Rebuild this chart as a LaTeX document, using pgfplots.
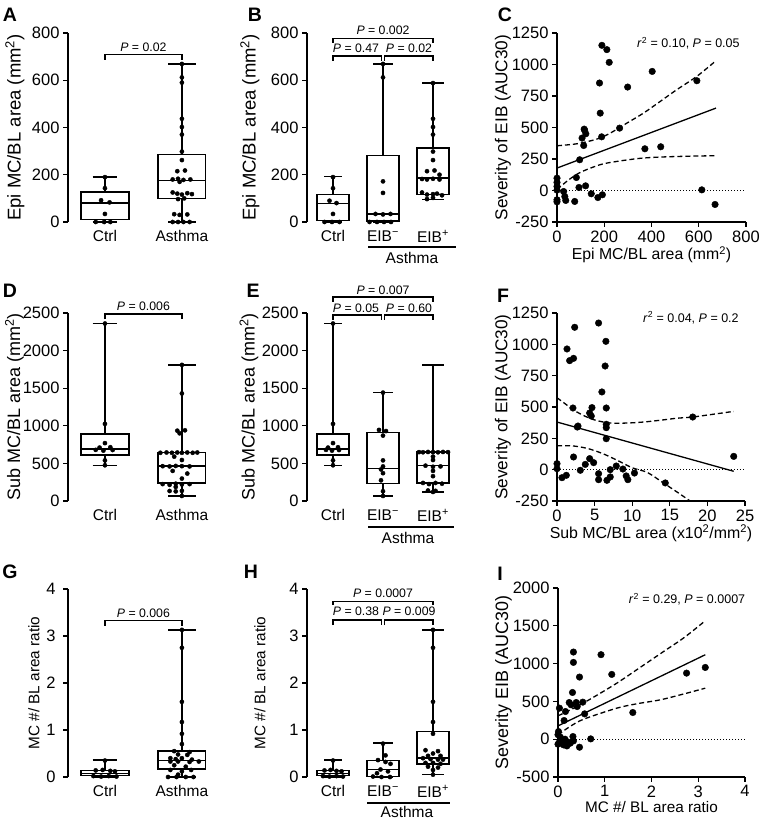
\documentclass[border=0pt]{standalone}
\usepackage{fontspec}
\setmainfont{Liberation Sans}
\usepackage{pgfplots}
\pgfplotsset{compat=1.18}
\newcommand{\fs}[1]{\fontsize{#1}{#1}\selectfont}
\newcommand{\mn}{\textsuperscript{\char"2212}}
% box: position, half box width, half whisker width, lower whisker, lower quartile, median, upper quartile, upper whisker
\newcommand{\bxp}[8]{%
 \pgfmathsetmacro\xa{#1-#2}\pgfmathsetmacro\xb{#1+#2}%
 \pgfmathsetmacro\wa{#1-#3}\pgfmathsetmacro\wb{#1+#3}%
 \addplot[bxl, line cap=rect] coordinates {(\xa,#5) (\xb,#5) (\xb,#7) (\xa,#7) (\xa,#5)};
 \addplot[bxl] coordinates {(\xa,#6) (\xb,#6)};
 \addplot[bxl] coordinates {(#1,#4) (#1,#5)};
 \addplot[bxl] coordinates {(#1,#7) (#1,#8)};
 \addplot[bxl] coordinates {(\wa,#4) (\wb,#4)};
 \addplot[bxl] coordinates {(\wa,#8) (\wb,#8)};
}
\tikzset{brk/.style={black, line width=1.2pt}}
\pgfplotsset{
 every axis/.append style={
   scale only axis, clip=false, anchor=south west,
   axis line style={line width=1.3pt},
   tick style={line width=1.3pt, black},
   major tick length=5pt, tick align=outside,
   /pgf/number format/assume math mode=true,
   /pgf/number format/1000 sep={},
   scaled ticks=false,
   yticklabel style={font=\fs{16.5}},
   xticklabel style={font=\fs{16.5}},
   every axis x label/.style={at={(axis description cs:0.5,0)},yshift=-30pt,anchor=center},
 },
 ylab/.style={every axis y label/.style={at={(axis description cs:0,0.5)},xshift=-#1,rotate=90,anchor=center}},
 boxax/.style={axis y line*=left, axis x line*=bottom, x axis line style={draw=none}, xtick style={draw=none}, ytick pos=left, xticklabel style={font=\fs{15.5}}},
 scax/.style={axis x line*=bottom, axis y line*=left},
 bxl/.style={black, line width=1.4pt, solid, mark=none},
 bdots/.style={only marks, mark=*, mark size=2.1pt, black},
 sdots/.style={only marks, mark=*, mark size=3.3pt, black},
 rline/.style={black, line width=1.3pt, mark=none},
 cband/.style={black, line width=1.3pt, dash pattern=on 5pt off 3pt, mark=none, smooth},
 zline/.style={black, line width=1.1pt, dash pattern=on 1.1pt off 1.9pt, mark=none},
}
\begin{document}
\begin{tikzpicture}
\path[use as bounding box] (0,0) rectangle (769pt,832pt);
% ---------------- A ----------------
\begin{axis}[boxax, ylab=53pt, at={(68pt,610pt)}, width=147pt, height=189pt,
  xmin=0.52, xmax=2.43, ymin=0, ymax=800, ytick={0,200,...,800},
  xtick={1,2}, xticklabels={Ctrl,Asthma},
  ylabel={Epi MC/BL area (mm\textsuperscript{2})}, ylabel style={font=\fs{18.5}}]
\bxp{1}{0.31}{0.16}{0}{11}{80}{127}{190}
\bxp{2}{0.31}{0.18}{0}{99}{175}{285}{669}
\addplot[bdots] coordinates {(1,190) (1,143) (0.95,92) (1.06,83) (1,34) (0.88,0) (0.99,0) (1.07,0)};
\addplot[bdots] coordinates {(2,669) (2,612) (2,590) (2,437) (2,402) (2,370) (2,298) (2,262) (1.94,215) (2.04,218) (1.88,180) (1.95,183) (2.02,178) (2.11,180) (1.97,170) (1.88,125) (1.94,120) (2.0,116) (2.07,122) (2.13,118) (1.95,97) (2.03,100) (1.9,33) (1.97,30) (2.07,32) (1.88,0) (1.95,0) (2.02,0) (2.1,0)};
\draw[brk] (axis cs:1,686) -- (axis cs:1,710) -- (axis cs:2,710) -- (axis cs:2,686);
\node[font=\fs{12.3}] at (axis cs:1.5,738) {\textit{P} = 0.02};
\end{axis}
% ---------------- B ----------------
\begin{axis}[boxax, ylab=57pt, at={(307pt,610pt)}, width=153pt, height=189pt,
  xmin=0.48, xmax=3.54, ymin=0, ymax=800, ytick={0,200,...,800},
  xtick={1,2,3}, xticklabels={Ctrl,EIB\mn,EIB\textsuperscript{+}},
  ylabel={Epi MC/BL area (mm\textsuperscript{2})}, ylabel style={font=\fs{18.5}}]
\bxp{1}{0.32}{0.18}{0}{6}{78}{116}{193}
\bxp{2}{0.32}{0.2}{0}{5}{34}{281}{669}
\bxp{3}{0.32}{0.22}{95}{116}{186}{313}{588}
\addplot[bdots] coordinates {(1,190) (1,143) (0.93,90) (1.07,80) (1,34) (0.83,0) (0.98,0) (1.13,0)};
\addplot[bdots] coordinates {(2,669) (2,612) (2,172) (2,123) (1.85,34) (2,32) (2.15,34) (1.73,0) (1.88,0) (2.02,0) (2.16,0)};
\addplot[bdots] coordinates {(3,588) (3,437) (3,402) (3,370) (3,298) (3,262) (2.88,215) (3.03,218) (3.13,200) (2.78,182) (2.88,180) (3.0,183) (3.13,180) (2.78,125) (2.88,116) (3.0,118) (3.08,120) (3.18,113) (2.88,97) (3.0,102)};
\draw[brk] (axis cs:1,759) -- (axis cs:1,778) -- (axis cs:3,778) -- (axis cs:3,759);
\draw[brk] (axis cs:1,683) -- (axis cs:1,703) -- (axis cs:1.97,703) -- (axis cs:1.97,683);
\draw[brk] (axis cs:2.03,683) -- (axis cs:2.03,703) -- (axis cs:3,703) -- (axis cs:3,683);
\node[font=\fs{12.3}] at (axis cs:2,810) {\textit{P} = 0.002};
\node[font=\fs{12.3}] at (axis cs:1.46,735) {\textit{P} = 0.47};
\node[font=\fs{12.3}] at (axis cs:2.52,735) {\textit{P} = 0.02};
\draw[brk] ([yshift=-25pt]axis cs:1.70,0) -- ([yshift=-25pt]axis cs:3.46,0);
\node[font=\fs{15.5}] at ([yshift=-36pt]axis cs:2.58,0) {Asthma};
\end{axis}
% ---------------- C ----------------
\begin{axis}[scax, ylab=54pt, at={(557pt,610pt)}, width=189pt, height=189pt,
  xmin=0, xmax=800, ymin=-250, ymax=1250, xtick={0,200,...,800}, ytick={-250,0,...,1250},
  ylabel={Severity of EIB (AUC30)}, ylabel style={font=\fs{17.2}},
  xlabel={Epi MC/BL area (mm\textsuperscript{2})}, xlabel style={font=\fs{15.8},yshift=-2.5pt}]
\addplot[zline] coordinates {(0,0) (800,0)};
\addplot[cband] coordinates {(0,355) (85,371) (169,408) (225,455) (296,535) (366,614) (437,707) (507,800) (592,906) (673,1030)};
\addplot[cband] coordinates {(0,8) (50,85) (100,145) (183,205) (251,230) (350,255) (433,265) (550,272) (673,276)};
\addplot[rline] coordinates {(0,178) (673,654)};
\addplot[sdots] coordinates {(190,1152) (211,1118) (221,1017) (180,853) (299,821) (403,945) (592,871) (183,614) (115,487) (117,478) (122,450) (106,416) (113,357) (189,426) (265,495) (96,244) (372,331) (439,347) (82,103) (93,24) (121,37) (0,98) (0,64) (0,32) (0,3) (0,-74) (0,-90) (28,-8) (33,-48) (37,-79) (75,-87) (145,-26) (173,-56) (192,-34) (613,5) (669,-111)};
\node[anchor=east, font=\fs{12.5}] at (rel axis cs:0.985,0.947) {\textit{r}\textsuperscript{2} = 0.10, \textit{P} = 0.05};
\end{axis}
% ---------------- D ----------------
\begin{axis}[boxax, ylab=53.5pt, at={(68pt,331pt)}, width=147pt, height=188pt,
  xmin=0.52, xmax=2.43, ymin=0, ymax=2500, ytick={0,500,...,2500},
  xtick={1,2}, xticklabels={Ctrl,Asthma},
  ylabel={Sub MC/BL area (mm\textsuperscript{2})}, ylabel style={font=\fs{18}}]
\bxp{1}{0.31}{0.16}{475}{609}{690}{890}{2360}
\bxp{2}{0.31}{0.18}{67}{240}{463}{641}{1810}
\addplot[bdots] coordinates {(1,2360) (1,1025) (1,770) (0.93,710) (1.07,715) (0.88,680) (0.98,670) (1.1,678) (1,540) (1,475)};
\addplot[bdots] coordinates {(2,1810) (2,1430) (1.94,935) (2.04,940) (1.97,900) (1.72,641) (1.8,645) (1.87,641) (1.94,645) (2.0,641) (2.07,645) (2.14,641) (2.2,645) (1.9,590) (2.0,545) (1.75,463) (1.84,460) (1.92,466) (2.0,463) (2.1,460) (1.88,400) (2.07,365) (2.0,298) (1.75,225) (1.84,215) (1.92,230) (2.0,220) (2.1,225) (1.92,187) (1.84,133) (1.92,128) (2.0,135) (2.0,67)};
\draw[brk] (axis cs:1,2415) -- (axis cs:1,2487) -- (axis cs:2,2487) -- (axis cs:2,2415);
\node[font=\fs{12.3}] at (axis cs:1.5,2584) {\textit{P} = 0.006};
\end{axis}
% ---------------- E ----------------
\begin{axis}[boxax, ylab=58pt, at={(307pt,331pt)}, width=153pt, height=188pt,
  xmin=0.48, xmax=3.54, ymin=0, ymax=2500, ytick={0,500,...,2500},
  xtick={1,2,3}, xticklabels={Ctrl,EIB\mn,EIB\textsuperscript{+}},
  ylabel={Sub MC/BL area (mm\textsuperscript{2})}, ylabel style={font=\fs{18}}]
\bxp{1}{0.32}{0.18}{475}{609}{690}{890}{2360}
\bxp{2}{0.32}{0.2}{67}{231}{431}{907}{1441}
\bxp{3}{0.32}{0.22}{120}{240}{471}{654}{1810}
\addplot[bdots] coordinates {(1,2360) (1,1025) (1,770) (0.9,710) (1.1,715) (0.86,680) (0.98,670) (1.12,678) (1,540) (1,475)};
\addplot[bdots] coordinates {(2,1441) (1.92,945) (2.06,930) (2,870) (2,540) (2,460) (1.96,420) (2,370) (1.96,275) (2,130) (2,67)};
\addplot[bdots] coordinates {(2.72,650) (2.8,648) (2.9,652) (3.0,650) (3.1,648) (3.2,652) (3.3,650) (3.0,590) (3.0,545) (2.85,470) (3.0,455) (3.15,460) (3.0,400) (3.0,330) (2.8,240) (2.92,225) (3.05,240) (3.18,230) (2.9,140) (3.05,135) (3.0,120)};
\draw[brk] (axis cs:1,2650) -- (axis cs:1,2713) -- (axis cs:3,2713) -- (axis cs:3,2650);
\draw[brk] (axis cs:1,2407) -- (axis cs:1,2473) -- (axis cs:1.97,2473) -- (axis cs:1.97,2407);
\draw[brk] (axis cs:2.03,2407) -- (axis cs:2.03,2473) -- (axis cs:3,2473) -- (axis cs:3,2407);
\node[font=\fs{12.3}] at (axis cs:2,2806) {\textit{P} = 0.007};
\node[font=\fs{12.3}] at (axis cs:1.46,2562) {\textit{P} = 0.05};
\node[font=\fs{12.3}] at (axis cs:2.52,2562) {\textit{P} = 0.60};
\draw[brk] ([yshift=-26pt]axis cs:1.70,0) -- ([yshift=-26pt]axis cs:3.42,0);
\node[font=\fs{15.5}] at ([yshift=-37pt]axis cs:2.5,0) {Asthma};
\end{axis}
% ---------------- F ----------------
\begin{axis}[scax, ylab=54pt, at={(557pt,331pt)}, width=188pt, height=188pt,
  xmin=0, xmax=25, ymin=-250, ymax=1250, xtick={0,5,...,25}, ytick={-250,0,...,1250},
  ylabel={Severity of EIB (AUC30)}, ylabel style={font=\fs{17.2}},
  xlabel={Sub MC/BL area (x10\textsuperscript{2}/mm\textsuperscript{2})}, xlabel style={font=\fs{15.9},yshift=-2pt}]
\addplot[zline] coordinates {(0,0) (25,0)};
\addplot[cband] coordinates {(0,574) (2.65,460) (4.87,399) (7.08,372) (9.3,372) (11.5,380) (13.7,394) (15.9,410) (18.05,420) (20.4,439) (23.5,465)};
\addplot[cband] coordinates {(0,190) (2,190) (4,170) (6,130) (8,75) (10,15) (12,-22) (14,-100) (16,-180) (17.7,-250)};
\addplot[rline] coordinates {(0,380) (23.5,-13)};
\addplot[sdots] coordinates {(5.53,1170) (2.35,1136) (1.33,963) (1.68,870) (2.2,888) (6.5,1024) (6.4,827) (5.97,620) (2.12,492) (4.34,452) (4.65,495) (4.56,428) (2.79,348) (2.7,340) (6.55,492) (6.55,362) (6.55,335) (6.55,247) (18.05,420) (23.5,106) (2.2,101) (0,48) (0,8) (0.66,-64) (1.24,-45) (3.1,-5) (3.76,42) (4.34,88) (4.87,56) (5.53,-32) (5.53,-80) (6.64,-85) (7.08,-58) (7.08,0) (7.88,29) (8.76,5) (9.2,-50) (9.42,-80) (10.3,-27) (14.4,-106)};
\node[anchor=east, font=\fs{12.5}] at (rel axis cs:0.985,0.974) {\textit{r}\textsuperscript{2} = 0.04, \textit{P} = 0.2};
\end{axis}
% ---------------- G ----------------
\begin{axis}[boxax, ylab=34pt, at={(68pt,55pt)}, width=147pt, height=188pt,
  xmin=0.52, xmax=2.43, ymin=0, ymax=4, ytick={0,1,2,3,4},
  yticklabel style={xshift=-4pt},
  xtick={1,2}, xticklabels={Ctrl,Asthma},
  ylabel={MC \#/ BL area ratio}, ylabel style={font=\fs{15.3}}]
\bxp{1}{0.31}{0.16}{0}{0.03}{0.07}{0.135}{0.36}
\bxp{2}{0.31}{0.18}{0}{0.17}{0.35}{0.55}{3.13}
\addplot[bdots] coordinates {(1,0.35) (0.88,0.14) (0.97,0.15) (1.07,0.13) (1.13,0.12) (0.85,0.02) (0.95,0.01) (1.05,0.02) (1.15,0.01)};
\addplot[bdots] coordinates {(2,3.13) (2,2.75) (2,1.6) (2,1.17) (2,0.92) (2,0.7) (1.9,0.55) (2.1,0.53) (1.95,0.48) (2.07,0.47) (1.85,0.4) (1.92,0.38) (2.0,0.4) (2.13,0.37) (1.85,0.33) (1.95,0.33) (2.1,0.32) (2.22,0.33) (1.9,0.25) (2.05,0.22) (1.85,0.15) (2.0,0.12) (2.12,0.15) (1.95,0.05) (1.82,0) (1.93,0) (2.05,0) (2.15,0)};
\draw[brk] (axis cs:1,3.22) -- (axis cs:1,3.33) -- (axis cs:2,3.33) -- (axis cs:2,3.22);
\node[font=\fs{12.3}] at (axis cs:1.5,3.49) {\textit{P} = 0.006};
\end{axis}
% ---------------- H ----------------
\begin{axis}[boxax, ylab=47pt, at={(307pt,55pt)}, width=153pt, height=188pt,
  xmin=0.48, xmax=3.54, ymin=0, ymax=4, ytick={0,1,2,3,4},
  xtick={1,2,3}, xticklabels={Ctrl,EIB\mn,EIB\textsuperscript{+}},
  ylabel={MC \#/ BL area ratio}, ylabel style={font=\fs{15.3}}]
\bxp{1}{0.32}{0.18}{0}{0.03}{0.07}{0.135}{0.36}
\bxp{2}{0.32}{0.2}{0}{0.014}{0.156}{0.355}{0.72}
\bxp{3}{0.32}{0.22}{0.05}{0.28}{0.40}{0.97}{3.13}
\addplot[bdots] coordinates {(1,0.35) (0.83,0.14) (0.95,0.15) (1.07,0.13) (1.17,0.12) (0.8,0.02) (0.93,0.01) (1.07,0.02) (1.2,0.01)};
\addplot[bdots] coordinates {(2,0.71) (2.05,0.46) (1.9,0.36) (2.05,0.32) (2.15,0.28) (1.95,0.16) (2.1,0.12) (1.88,0.08) (1.8,0.01) (1.97,0) (2.14,0)};
\addplot[bdots] coordinates {(3,3.13) (3,2.75) (3,1.6) (3,1.17) (3,0.92) (2.85,0.57) (3.1,0.55) (3.0,0.5) (2.9,0.45) (3.15,0.45) (2.8,0.4) (2.95,0.38) (3.1,0.37) (3.2,0.37) (2.85,0.3) (3.0,0.3) (3.15,0.28) (2.9,0.22) (3.1,0.2) (3.0,0.15) (3.0,0.05)};
\draw[brk] (axis cs:1,3.66) -- (axis cs:1,3.74) -- (axis cs:3,3.74) -- (axis cs:3,3.66);
\draw[brk] (axis cs:1,3.23) -- (axis cs:1,3.34) -- (axis cs:1.97,3.34) -- (axis cs:1.97,3.23);
\draw[brk] (axis cs:2.03,3.23) -- (axis cs:2.03,3.34) -- (axis cs:3,3.34) -- (axis cs:3,3.23);
\node[font=\fs{12.3}] at (axis cs:2,3.91) {\textit{P} = 0.0007};
\node[font=\fs{12.3}] at (axis cs:1.46,3.52) {\textit{P} = 0.38};
\node[font=\fs{12.3}] at (axis cs:2.52,3.52) {\textit{P} = 0.009};
\draw[brk] ([yshift=-26pt]axis cs:1.68,0) -- ([yshift=-26pt]axis cs:3.34,0);
\node[font=\fs{15.5}] at ([yshift=-35pt]axis cs:2.48,0) {Asthma};
\end{axis}
% ---------------- I ----------------
\begin{axis}[scax, ylab=54.5pt, at={(558pt,55pt)}, width=187pt, height=189pt,
  xmin=0, xmax=4, ymin=-500, ymax=2000, xtick={0,1,2,3,4}, ytick={-500,0,...,2000},
  ylabel={Severity EIB (AUC30)}, ylabel style={font=\fs{17.9}},
  xlabel={MC \#/ BL area ratio}, xlabel style={font=\fs{15.3}}]
\addplot[zline] coordinates {(0,0) (4,0)};
\addplot[cband] coordinates {(0,309) (0.4,430) (0.8,570) (1.26,742) (1.7,925) (2.19,1131) (2.7,1345) (3.15,1567)};
\addplot[cband] coordinates {(0,57) (0.25,165) (0.55,265) (1.26,411) (1.7,470) (2.19,521) (2.7,600) (3.15,675)};
\addplot[rline] coordinates {(0,176) (3.15,1117)};
\addplot[sdots] coordinates {(0.33,1153) (0.33,1016) (0.92,1118) (0.46,822) (1.15,857) (2.75,874) (3.15,949) (0.31,618) (0.03,411) (0.16,366) (0.24,485) (0.28,455) (0.39,485) (0.41,432) (0.53,490) (0.57,335) (1.60,353) (0.13,247) (0.01,101) (0,60) (0.05,27) (0,-66) (0.09,-32) (0.12,-76) (0.19,-89) (0.26,-53) (0.32,35) (0.33,-23) (0.46,-106) (0.70,4) (0.02,-50) (0.15,0) (0.22,-40)};
\node[anchor=east, font=\fs{12.5}] at (rel axis cs:1.02,0.94) {\textit{r}\textsuperscript{2} = 0.29, \textit{P} = 0.0007};
\end{axis}
% ---------------- panel letters ----------------
\begin{scope}[every node/.style={font=\bfseries\fs{19.5}}]
\node at (10pt,817pt) {A};
\node at (255pt,817pt) {B};
\node at (505pt,817pt) {C};
\node at (10pt,541pt) {D};
\node at (253pt,541pt) {E};
\node at (503pt,536pt) {F};
\node at (10pt,260pt) {G};
\node at (251pt,260pt) {H};
\node at (500pt,258pt) {I};
\end{scope}
\end{tikzpicture}
\end{document}
